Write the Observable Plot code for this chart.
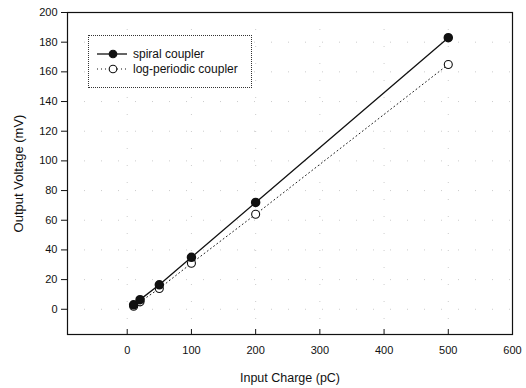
<!DOCTYPE html>
<html>
<head>
<meta charset="utf-8">
<script src="https://cdn.jsdelivr.net/npm/d3@7"></script>
<script src="https://cdn.jsdelivr.net/npm/@observablehq/plot@0.6"></script>
<style>
  html, body { margin: 0; padding: 0; background: #fff; }
  #wrap { position: relative; width: 526px; height: 388px; font-family: "Liberation Sans", Arial, sans-serif; }
  #legend { position: absolute; left: 88px; top: 35px; width: 164px; height: 53px; border: 1px dotted #333; box-sizing: border-box; background: #fff; font-size: 12px; color: #111; }
  .row { position: absolute; left: 7px; height: 14px; display: flex; align-items: center; }
  .row svg { margin-right: 5px; }
</style>
</head>
<body>
<div id="wrap"></div>
<script>
const charge = [10, 20, 50, 100, 200, 500];
const spiral = [3, 6.5, 16.5, 35, 72, 183];
const logPeriodic = [2, 5, 14, 31, 64, 165];
const seriesNames = ["spiral coupler", "log-periodic coupler"];
const xTicks = [0, 100, 200, 300, 400, 500, 600];
const yTicks = [0, 20, 40, 60, 80, 100, 120, 140, 160, 180, 200];

const spiralData = charge.map((c, i) => ({x: c, y: spiral[i]}));
const logData = charge.map((c, i) => ({x: c, y: logPeriodic[i]}));

const chart = Plot.plot({
  width: 526,
  height: 388,
  marginLeft: 67,
  marginRight: 14,
  marginTop: 12,
  marginBottom: 54,
  style: {fontFamily: "Liberation Sans, Arial, sans-serif", fontSize: "11px", color: "#111", background: "#fff"},
  x: {domain: [-93, 600], ticks: xTicks},
  y: {domain: [-17, 200], ticks: yTicks},
  marks: [
    Plot.gridY(yTicks, {stroke: "#aaa", strokeOpacity: 0.6, strokeDasharray: "1,16"}),
    Plot.gridX(xTicks, {stroke: "#aaa", strokeOpacity: 0.6, strokeDasharray: "1,16"}),
    Plot.frame({stroke: "#111", strokeWidth: 1.2}),
    Plot.axisY(yTicks, {tickSize: 6, tickPadding: 4, label: null, stroke: "#111"}),
    Plot.axisX(xTicks, {tickSize: 0, tickPadding: 12, label: null}),
    Plot.ruleX(xTicks, {x: d => d, stroke: "#111", insetTop: 322 - 5}),
    Plot.line(logData, {x: "x", y: "y", stroke: "#222", strokeWidth: 1, strokeDasharray: "1,3"}),
    Plot.line(spiralData, {x: "x", y: "y", stroke: "#111", strokeWidth: 1.3}),
    Plot.dot(logData, {x: "x", y: "y", r: 4, fill: "#fff", stroke: "#111", strokeWidth: 1.1}),
    Plot.dot(spiralData, {x: "x", y: "y", r: 4, fill: "#111", stroke: "#111"}),
    Plot.text(["Input Charge (pC)"], {frameAnchor: "bottom", dy: 47, fontSize: 12.5, fill: "#111"}),
    Plot.text(["Output Voltage (mV)"], {frameAnchor: "left", textAnchor: "middle", dx: -49, rotate: -90, fontSize: 13, fill: "#111"})
  ]
});

const wrap = document.getElementById("wrap");
wrap.appendChild(chart);

const legend = document.createElement("div");
legend.id = "legend";
const styles = [
  {dash: "", fill: "#111"},
  {dash: "1,3", fill: "#fff"}
];
seriesNames.forEach((name, i) => {
  const row = document.createElement("div");
  row.className = "row";
  row.style.top = (i === 0 ? 11 : 26) + "px";
  const s = styles[i];
  row.innerHTML = `<svg width="32" height="12"><line x1="1" y1="6" x2="31" y2="6" stroke="#111" stroke-width="${i === 0 ? 1.3 : 1}" ${s.dash ? `stroke-dasharray="${s.dash}"` : ""}/><circle cx="17" cy="6" r="3.8" fill="${s.fill}" stroke="#111" stroke-width="1.1"/></svg><span>${name}</span>`;
  legend.appendChild(row);
});
wrap.appendChild(legend);
</script>
</body>
</html>
